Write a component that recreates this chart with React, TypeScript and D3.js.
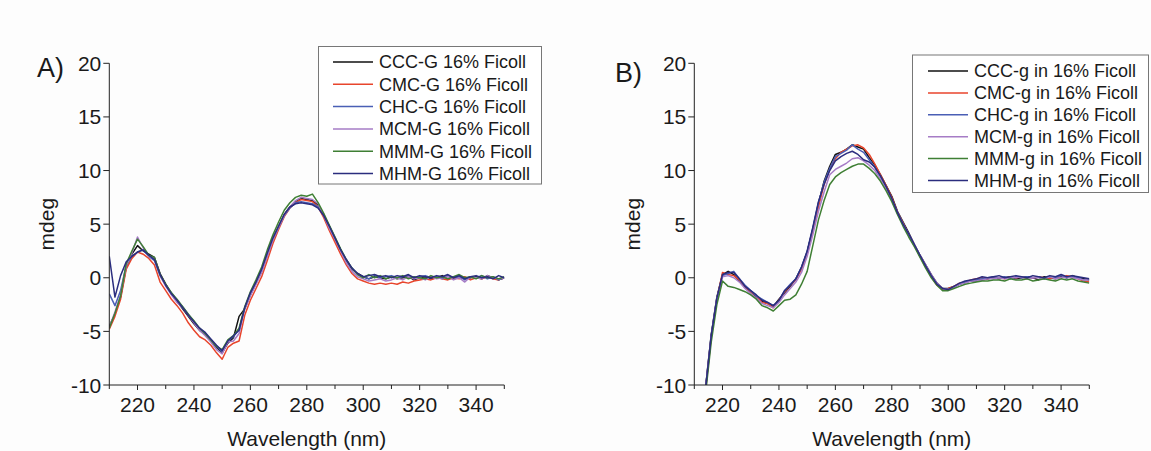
import React from "react";
import * as d3 from "d3";

// ---------- DATA ----------
const wavelengthA = [210,212,214,216,218,220,222,224,226,228,230,232,234,236,238,240,242,244,246,248,250,252,254,256,258,260,262,264,266,268,270,272,274,276,278,280,282,284,286,288,290,292,294,296,298,300,302,304,306,308,310,312,314,316,318,320,322,324,326,328,330,332,334,336,338,340,342,344,346,348,350];
const wavelengthB = [214,216,218,220,222,224,226,228,230,232,234,236,238,240,242,244,246,248,250,252,254,256,258,260,262,264,266,268,270,272,274,276,278,280,282,284,286,288,290,292,294,296,298,300,302,304,306,308,310,312,314,316,318,320,322,324,326,328,330,332,334,336,338,340,342,344,346,348,350];

const cccA = [-4.5,-3.4,-1.8,1.0,2.2,3.0,2.5,2.2,1.9,0.4,-0.6,-1.5,-2.2,-2.9,-3.6,-4.3,-4.9,-5.3,-5.9,-6.5,-7.0,-6.1,-5.6,-3.6,-2.9,-1.6,-0.5,0.6,2.1,3.6,4.8,5.9,6.6,7.1,7.4,7.3,7.2,6.8,5.9,4.8,3.7,2.6,1.6,0.8,0.4,0.1,-0.1,0.1,0.0,-0.1,0.1,-0.1,0.0,0.1,-0.2,0.0,0.1,-0.1,0.0,0.2,-0.1,0.0,0.1,-0.1,0.0,0.1,-0.1,0.2,0.0,-0.2,0.0];
const cmcA = [-4.8,-3.6,-2.0,0.8,1.8,2.4,2.2,1.8,1.2,-0.4,-1.2,-2.0,-2.6,-3.3,-4.2,-4.9,-5.5,-5.8,-6.3,-7.0,-7.6,-6.5,-6.1,-5.9,-3.5,-2.1,-1.0,0.1,1.6,3.2,4.5,5.7,6.5,7.0,7.3,7.2,7.1,6.6,5.6,4.4,3.3,2.2,1.2,0.4,-0.1,-0.3,-0.5,-0.6,-0.5,-0.6,-0.5,-0.6,-0.4,-0.5,-0.3,-0.2,-0.1,-0.2,0.0,-0.1,-0.2,0.0,-0.1,0.1,-0.2,0.0,-0.1,0.1,-0.1,-0.2,0.0];
const chcA = [-1.5,-2.6,-1.2,1.2,2.0,2.4,2.6,2.0,1.6,0.2,-0.7,-1.4,-2.1,-2.7,-3.4,-4.1,-4.8,-5.2,-5.9,-6.4,-6.9,-5.9,-5.5,-4.8,-2.8,-1.5,-0.4,0.7,2.2,3.6,4.7,5.8,6.5,7.0,7.1,7.0,6.9,6.6,5.8,4.7,3.7,2.6,1.6,0.9,0.3,0.1,-0.1,0.2,0.0,0.1,0.2,0.0,0.1,0.2,-0.1,0.1,0.2,0.0,0.1,-0.1,0.2,0.0,0.1,-0.2,0.1,0.0,0.2,-0.1,0.1,-0.2,0.0];
const mcmA = [-4.6,-3.2,-1.6,1.1,2.3,3.8,2.8,2.0,1.8,0.2,-0.8,-1.6,-2.3,-2.8,-3.5,-4.2,-4.9,-5.4,-6.0,-6.7,-7.1,-6.0,-5.9,-5.2,-2.9,-1.7,-0.6,0.5,2.0,3.5,4.7,5.8,6.6,7.2,7.5,7.4,7.3,6.9,5.8,4.6,3.6,2.5,1.4,0.6,0.1,-0.1,-0.3,-0.2,-0.1,-0.3,-0.2,0.0,-0.2,0.1,-0.1,0.0,-0.2,0.1,-0.1,0.0,0.1,-0.2,0.0,-0.4,0.1,0.0,-0.1,0.2,0.0,-0.1,0.0];
const mmmA = [-4.7,-3.3,-1.7,1.3,2.5,3.6,2.9,2.1,1.9,0.3,-0.6,-1.4,-2.0,-2.7,-3.4,-4.0,-4.7,-5.2,-5.8,-6.4,-6.7,-5.8,-5.4,-4.7,-2.7,-1.3,-0.2,1.0,2.6,4.0,5.2,6.3,7.0,7.5,7.7,7.6,7.8,7.0,6.0,4.9,3.8,2.7,1.7,0.9,0.3,0.0,0.3,0.0,0.2,-0.1,0.1,0.0,0.2,-0.1,0.1,0.0,-0.1,0.2,0.0,0.1,-0.1,0.1,0.3,0.0,0.1,-0.1,0.2,0.0,0.1,-0.1,0.1];
const mhmA = [2.0,-1.8,0.2,1.5,2.0,2.4,2.6,2.1,1.7,0.3,-0.7,-1.5,-2.1,-2.8,-3.5,-4.1,-4.7,-5.1,-5.7,-6.3,-6.8,-5.9,-5.4,-4.9,-2.8,-1.4,-0.4,0.8,2.3,3.7,4.8,5.9,6.6,6.9,7.0,6.9,6.8,6.5,5.8,4.8,3.7,2.6,1.7,0.9,0.4,0.1,0.2,0.3,0.1,0.2,0.0,0.2,0.1,0.3,0.0,0.2,0.1,0.0,0.2,0.1,0.3,0.0,0.2,-0.1,0.1,0.2,0.0,0.1,-0.1,0.2,0.0];

const cccB = [-10.2,-5.3,-1.8,0.3,0.6,0.3,-0.3,-0.9,-1.3,-1.8,-2.2,-2.4,-2.7,-2.0,-1.4,-0.8,-0.1,0.9,2.4,4.5,6.9,9.0,10.4,11.5,11.7,12.0,12.4,12.2,12.0,11.2,10.5,9.6,8.6,7.6,6.2,5.2,4.2,3.1,2.1,1.2,0.3,-0.5,-1.0,-1.0,-0.8,-0.6,-0.4,-0.3,-0.3,-0.2,-0.1,0.0,-0.1,0.0,0.1,-0.1,0.0,0.1,0.0,-0.2,0.1,0.0,-0.1,0.1,0.0,0.2,0.0,-0.1,-0.2];
const cmcB = [-10.4,-5.5,-2.0,0.5,0.3,0.2,-0.2,-0.8,-1.3,-1.7,-2.3,-2.4,-2.8,-2.1,-1.3,-0.7,-0.2,0.8,2.2,4.4,6.6,8.7,10.1,11.1,11.7,12.0,12.3,12.4,12.1,11.5,10.6,9.6,8.6,7.5,6.1,5.1,4.0,3.0,2.0,1.0,0.1,-0.7,-1.1,-1.0,-0.8,-0.5,-0.4,-0.2,-0.1,0.0,-0.1,0.1,0.0,-0.1,0.1,0.0,0.1,-0.1,0.0,0.1,0.0,-0.1,0.1,0.0,0.2,0.1,-0.1,-0.3,-0.4];
const chcB = [-10.3,-5.4,-1.9,0.2,0.4,0.6,-0.1,-0.7,-1.2,-1.7,-2.0,-2.3,-2.6,-2.2,-1.2,-0.6,-0.1,1.0,2.4,4.6,7.0,8.9,10.2,11.3,11.6,11.9,12.4,12.0,11.7,11.0,10.3,9.4,8.4,7.3,6.0,5.0,4.0,3.0,2.0,1.1,0.2,-0.6,-1.0,-1.1,-0.9,-0.6,-0.4,-0.3,-0.2,-0.1,0.0,0.1,0.0,0.1,-0.1,0.1,0.0,0.1,0.0,0.1,-0.1,0.1,0.0,0.2,0.0,0.1,0.0,-0.2,-0.1];
const mcmB = [-10.5,-5.6,-2.0,0.1,0.2,0.0,-0.4,-1.0,-1.5,-1.9,-2.4,-2.6,-2.8,-2.3,-1.6,-1.0,-0.4,0.5,2.0,4.0,6.2,8.0,9.6,10.1,10.4,10.7,11.1,11.2,10.9,10.5,10.0,9.2,8.3,7.3,6.1,5.0,4.1,3.1,2.1,1.2,0.3,-0.5,-1.0,-1.1,-0.9,-0.6,-0.5,-0.3,-0.3,-0.2,-0.1,-0.1,0.0,-0.1,0.0,0.0,0.1,-0.1,0.0,0.0,-0.1,0.1,-0.1,0.0,0.1,0.0,-0.1,-0.2,-0.2];
const mmmB = [-10.8,-6.0,-2.5,-0.3,-0.8,-0.9,-1.1,-1.3,-1.6,-2.0,-2.6,-2.8,-3.1,-2.6,-2.1,-2.0,-1.6,-0.6,0.6,3.0,5.4,7.2,8.7,9.4,9.8,10.1,10.4,10.6,10.6,10.2,9.7,9.0,8.1,7.1,5.9,4.8,3.8,2.9,1.9,0.9,0.0,-0.7,-1.2,-1.2,-1.0,-0.8,-0.6,-0.5,-0.4,-0.3,-0.3,-0.2,-0.2,-0.3,-0.1,-0.2,-0.2,-0.1,-0.3,-0.2,-0.1,-0.2,-0.3,-0.1,-0.2,-0.1,-0.3,-0.4,-0.5];
const mhmB = [-10.3,-5.4,-1.9,0.3,0.5,0.5,-0.1,-0.8,-1.2,-1.6,-2.1,-2.3,-2.6,-2.1,-1.2,-0.7,-0.1,1.0,2.5,4.7,7.1,8.7,10.0,10.9,11.3,11.6,11.8,11.5,11.0,10.8,10.3,9.5,8.5,7.4,6.1,5.0,4.1,3.1,2.1,1.1,0.2,-0.6,-1.0,-1.1,-0.8,-0.5,-0.3,-0.2,-0.1,0.1,0.0,0.1,0.2,0.0,0.1,0.2,0.1,0.0,0.2,0.1,0.0,0.2,0.1,0.3,0.1,0.2,0.1,0.0,-0.1];

const seriesColors = ["#111111", "#e8452c", "#4a5fb5", "#a67cc6", "#3f7f34", "#2b2d7e"];
const legendA = ["CCC-G 16% Ficoll", "CMC-G 16% Ficoll", "CHC-G 16% Ficoll", "MCM-G 16% Ficoll", "MMM-G 16% Ficoll", "MHM-G 16% Ficoll"];
const legendB = ["CCC-g in 16% Ficoll", "CMC-g in 16% Ficoll", "CHC-g in 16% Ficoll", "MCM-g in 16% Ficoll", "MMM-g in 16% Ficoll", "MHM-g in 16% Ficoll"];
const xTicks = [220, 240, 260, 280, 300, 320, 340];
const xMinorTicks = [210, 230, 250, 270, 290, 310, 330, 350];
const yTicks = [-10, -5, 0, 5, 10, 15, 20];

const FONT = "'Liberation Sans', Arial, sans-serif";

type PanelProps = {
  id: string;
  label: string;
  labelX: number;
  labelY: number;
  x0: number;
  x1: number;
  yTitleX: number;
  wl: number[];
  series: number[][];
  names: string[];
  legend: { x: number; y: number; w: number; h: number; lineX: number; textX: number; rowY: number; rowStep: number };
};

function Panel(p: PanelProps) {
  const x = d3.scaleLinear().domain([210, 350]).range([p.x0, p.x1]);
  const y = d3.scaleLinear().domain([-10, 20]).range([385, 63.3]);
  const line = d3
    .line<[number, number]>()
    .x((d) => x(d[0]))
    .y((d) => y(d[1]));
  const y0 = y(-10);
  return (
    <g>
      <defs>
        <clipPath id={p.id}>
          <rect x={p.x0} y={y(20)} width={p.x1 - p.x0} height={y0 - y(20)} />
        </clipPath>
      </defs>
      <g clipPath={`url(#${p.id})`}>
        {p.series.map((s, si) => {
          const pts: [number, number][] = p.wl
            .map((w, i) => [w, s[i]] as [number, number])
            .filter((d) => d[1] !== undefined);
          return (
            <path
              key={si}
              d={line(pts) || ""}
              fill="none"
              stroke={seriesColors[si]}
              strokeWidth={1.5}
              strokeLinejoin="round"
            />
          );
        })}
      </g>
      {/* axes */}
      <line x1={p.x0} x2={p.x0} y1={y(20)} y2={y0} stroke="#222" strokeWidth={1} />
      <line x1={p.x0} x2={p.x1} y1={y0} y2={y0} stroke="#222" strokeWidth={1} />
      {yTicks.map((t) => (
        <g key={t}>
          <line x1={p.x0 - 6} x2={p.x0} y1={y(t)} y2={y(t)} stroke="#222" />
          <text x={p.x0 - 8} y={y(t)} dy="0.36em" textAnchor="end" fontSize={21} fontFamily={FONT} fill="#1a1a1a">
            {t}
          </text>
        </g>
      ))}
      {xMinorTicks.map((t) => (
        <line key={t} x1={x(t)} x2={x(t)} y1={y0} y2={y0 + 4} stroke="#222" />
      ))}
      {xTicks.map((t) => (
        <g key={t}>
          <line x1={x(t)} x2={x(t)} y1={y0} y2={y0 + 5} stroke="#222" />
          <text x={x(t)} y={412} textAnchor="middle" fontSize={21} fontFamily={FONT} fill="#1a1a1a">
            {t}
          </text>
        </g>
      ))}
      <text x={(p.x0 + p.x1) / 2} y={446} textAnchor="middle" fontSize={21} fontFamily={FONT} fill="#1a1a1a">
        Wavelength (nm)
      </text>
      <text
        transform={`translate(${p.yTitleX},${(y(20) + y0) / 2}) rotate(-90)`}
        textAnchor="middle"
        dy="0.36em"
        fontSize={21}
        fontFamily={FONT}
        fill="#1a1a1a"
      >
        mdeg
      </text>
      <text x={p.labelX} y={p.labelY} fontSize={27} fontFamily={FONT} fill="#1a1a1a">
        {p.label}
      </text>
      {/* legend */}
      <rect x={p.legend.x} y={p.legend.y} width={p.legend.w} height={p.legend.h} fill="#fff" stroke="#777" strokeWidth={1} />
      {p.names.map((n, i) => {
        const ry = p.legend.rowY + i * p.legend.rowStep;
        return (
          <g key={n}>
            <line x1={p.legend.lineX} x2={p.legend.lineX + 40} y1={ry} y2={ry} stroke={seriesColors[i]} strokeWidth={1.5} />
            <text x={p.legend.textX} y={ry} dy="0.36em" fontSize={18} fontFamily={FONT} fill="#1a1a1a">
              {n}
            </text>
          </g>
        );
      })}
    </g>
  );
}

export default function App() {
  return (
    <svg
      width={1151}
      height={451}
      style={{ position: "absolute", left: 0, top: 0, background: "#ffffff" }}
    >
      <rect x={0} y={0} width={1151} height={451} fill="#fdfdfd" />
      <Panel
        id="clipA"
        label="A)"
        labelX={37}
        labelY={77}
        x0={109.3}
        x1={504.3}
        yTitleX={46}
        wl={wavelengthA}
        series={[cccA, cmcA, chcA, mcmA, mmmA, mhmA]}
        names={legendA}
        legend={{ x: 318.5, y: 46.5, w: 223, h: 137.5, lineX: 333, textX: 379, rowY: 62, rowStep: 22.3 }}
      />
      <Panel
        id="clipB"
        label="B)"
        labelX={615}
        labelY={82}
        x0={694.3}
        x1={1089.3}
        yTitleX={632}
        wl={wavelengthB}
        series={[cccB, cmcB, chcB, mcmB, mmmB, mhmB]}
        names={legendB}
        legend={{ x: 912.5, y: 55, w: 236, h: 137.5, lineX: 928, textX: 974, rowY: 71, rowStep: 21.9 }}
      />
    </svg>
  );
}
